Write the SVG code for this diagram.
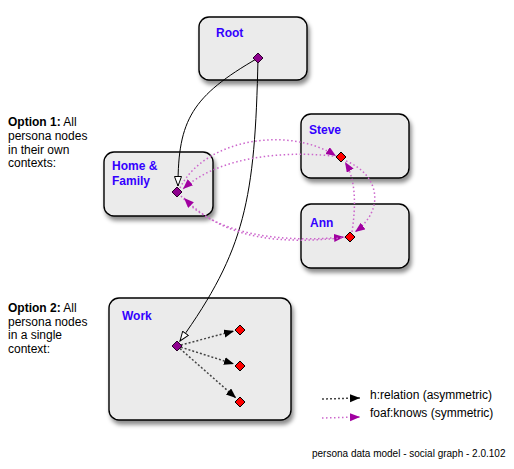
<svg xmlns="http://www.w3.org/2000/svg" width="514" height="469" viewBox="0 0 514 469">
<style>
.box{fill:#ebebeb;stroke:#000;stroke-width:1.4;filter:url(#sh)}
.lbl{font-family:"Liberation Sans",Arial,sans-serif;font-weight:bold;font-size:12px;fill:#3300ff}
.txt{font-family:"Liberation Sans",Arial,sans-serif;font-size:12px;fill:#000}
.foot{font-family:"Liberation Sans",Arial,sans-serif;font-size:10px;fill:#000}
.pd{fill:#8e008e;stroke:#2a002a;stroke-width:1}
.rd{fill:#ff0000;stroke:#000;stroke-width:1}
.solid{fill:none;stroke:#000;stroke-width:1}
.rel{fill:none;stroke:#444;stroke-width:1.5;stroke-dasharray:2 2}
.knows{fill:none;stroke:#cc66cc;stroke-width:1.5;stroke-dasharray:1.5 2.5}
</style>
<defs>
<filter id="sh" x="-20%" y="-20%" width="140%" height="150%">
<feDropShadow dx="2" dy="4" stdDeviation="2" flood-color="#000" flood-opacity="0.45"/>
</filter>
<marker id="open" markerUnits="userSpaceOnUse" markerWidth="12" markerHeight="10" refX="10" refY="4" orient="auto">
<path d="M0.5,0.5 L10,4 L0.5,7.5 z" fill="#fff" stroke="#000" stroke-width="1"/>
</marker>
<marker id="blk" markerUnits="userSpaceOnUse" markerWidth="12" markerHeight="10" refX="10" refY="4" orient="auto">
<path d="M0,0 L10,4 L0,8 z" fill="#000"/>
</marker>
<marker id="pnk" markerUnits="userSpaceOnUse" markerWidth="12" markerHeight="10" refX="10" refY="4" orient="auto">
<path d="M0,0 L10,4 L0,8 z" fill="#a000a0"/>
</marker>
</defs>

<g id="root">
<rect class="box" x="199" y="17" width="108" height="63" rx="10"/>
<text class="lbl" x="216" y="37">Root</text>
</g>
<g id="home">
<rect class="box" x="104" y="152" width="109" height="64" rx="10"/>
<text class="lbl" x="112" y="170">Home &amp;</text>
<text class="lbl" x="112" y="185">Family</text>
</g>
<g id="steve">
<rect class="box" x="301" y="114" width="108" height="64" rx="10"/>
<text class="lbl" x="309" y="134">Steve</text>
</g>
<g id="ann">
<rect class="box" x="301" y="204" width="108" height="64" rx="10"/>
<text class="lbl" x="310" y="227">Ann</text>
</g>
<g id="work">
<rect class="box" x="109" y="298" width="182" height="122" rx="10"/>
<text class="lbl" x="122" y="320">Work</text>
</g>

<g id="connectors">
<path class="solid" d="M258,58 C192,96 178,120 178,186" marker-end="url(#open)"/>
<path class="solid" d="M258,58 C255,200 245,250 180,341" marker-end="url(#open)"/>
<path class="rel" d="M177,346 L234,331" marker-end="url(#blk)"/>
<path class="rel" d="M177,346 L234,364" marker-end="url(#blk)"/>
<path class="rel" d="M177,346 L236,398" marker-end="url(#blk)"/>
<path class="knows" d="M180,188 C205,138 290,126 336,156" marker-end="url(#pnk)"/>
<path class="knows" d="M341,157 C290,150 220,155 183,189" marker-end="url(#pnk)"/>
<path class="knows" d="M181,196 C215,235 280,243 344,237" marker-end="url(#pnk)"/>
<path class="knows" d="M350,237 C280,245 225,240 184,198" marker-end="url(#pnk)"/>
<path class="knows" d="M352,232 C356,205 356,180 345,162" marker-end="url(#pnk)"/>
<path class="knows" d="M346,161 C380,175 385,210 355,232" marker-end="url(#pnk)"/>
<path class="rel" d="M322,399 L360,398" marker-end="url(#blk)"/>
<path class="knows" d="M322,418 L360,417" marker-end="url(#pnk)"/>
</g>

<g id="diamonds">
<path class="pd" d="M258,53 L263,58 L258,63 L253,58 z"/>
<path class="pd" d="M177,187 L182,192 L177,197 L172,192 z"/>
<path class="rd" d="M341,152 L346,157 L341,162 L336,157 z"/>
<path class="rd" d="M350,232 L355,237 L350,242 L345,237 z"/>
<path class="pd" d="M177,341 L182,346 L177,351 L172,346 z"/>
<path class="rd" d="M240,325 L245,330 L240,335 L235,330 z"/>
<path class="rd" d="M240,361 L245,366 L240,371 L235,366 z"/>
<path class="rd" d="M240,397 L245,402 L240,407 L235,402 z"/>
</g>

<g id="notes">
<text class="txt" x="8" y="126"><tspan font-weight="bold">Option 1:</tspan> All</text>
<text class="txt" x="8" y="140">persona nodes</text>
<text class="txt" x="8" y="153.5">in their own</text>
<text class="txt" x="8" y="167">contexts:</text>
<text class="txt" x="8" y="312"><tspan font-weight="bold">Option 2:</tspan> All</text>
<text class="txt" x="8" y="325.5">persona nodes</text>
<text class="txt" x="8" y="339">in a single</text>
<text class="txt" x="8" y="352.5">context:</text>
<text class="txt" x="370" y="399">h:relation (asymmetric)</text>
<text class="txt" x="370" y="417">foaf:knows (symmetric)</text>
<text class="foot" x="312" y="457">persona data model - social graph - 2.0.102</text>
</g>
</svg>
